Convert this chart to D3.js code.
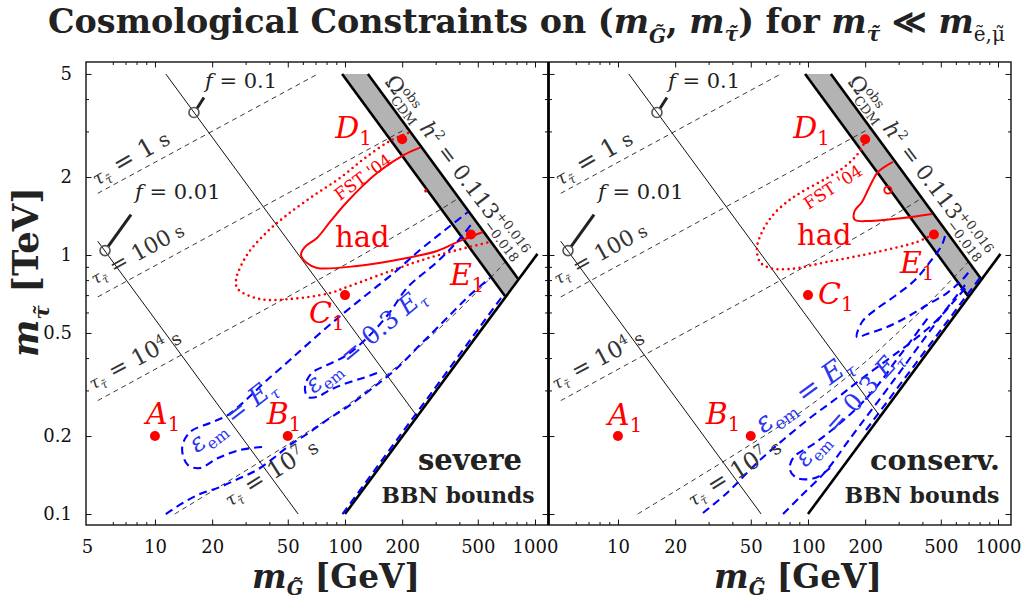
<!DOCTYPE html>
<html>
<head>
<meta charset="utf-8">
<script src="https://cdn.jsdelivr.net/npm/d3@7"></script>
<style>
  body { margin: 0; background: #fff; }
  svg { display: block; }
</style>
</head>
<body>
<svg id="chart" width="1028" height="607"></svg>
<script>
// ---------- axis ticks ----------
const xLabelTicksLeft = [5, 10, 20, 50, 100, 200, 500, 1000];
const xLabelTicksRight = [10, 20, 50, 100, 200, 500, 1000];
const xMajorTicks = [10, 20, 50, 100, 200, 500, 1000];
const xMinorTicks = [6, 7, 8, 9, 30, 40, 60, 70, 80, 90, 300, 400, 600, 700, 800, 900];
const yMajorTicks = [0.1, 0.2, 0.5, 1, 2, 5];
const yMinorTicks = [0.3, 0.4, 0.6, 0.7, 0.8, 0.9, 3, 4];

// ---------- benchmark points (gravitino mass in GeV, stau mass in TeV) ----------
const benchNames = ['A', 'B', 'C', 'D', 'E'];
const benchGravitino = [10, 50, 100, 200, 460];
const benchStau = [0.2, 0.2, 0.7, 2.8, 1.2];

// ---------- dark-matter band and kinematic limit ----------
const omegaBand = [[96.6, 5.0], [132, 5.0], [812, 0.812], [695, 0.695]];
const kinematicLimit = [[100, 0.1], [1030, 1.01]];

// ---------- stau lifetime contours ----------
const tau1s = [[5, 1.73], [72, 5.0]];
const tau100s = [[5, 0.689], [213, 3.09]];
const tau1e4s = [[5, 0.274], [20, 0.4775], [50, 0.689], [100, 0.917], [200, 1.227], [300, 1.46], [398, 1.66]];
const tau1e7s = [[12.7, 0.1], [20, 0.1225], [50, 0.1856], [100, 0.259], [200, 0.386], [300, 0.505], [400, 0.616], [500, 0.727], [600, 0.835], [700, 0.943]];

// ---------- f contours ----------
const fTenth = [[11.4, 5.0], [239, 0.239]];
const fHundredth = [[5, 1.13], [56.7, 0.1]];
const fMarks = [[16.04, 3.55], [5.46, 1.04]];
const fValues = ['0.1', '0.01'];

// ---------- hadronic BBN bounds ----------
const hadSevere = [[248, 2.596], [204.4, 2.433], [147.4, 2.073], [102.4, 1.602], [83.4, 1.341], [71.2, 1.163], [61.6, 1.074], [58.7, 1.0], [63.1, 0.931], [71.2, 0.891], [115.7, 0.907], [212, 0.974], [305, 1.036], [403, 1.133], [532, 1.227]];
const hadConserv = [[280, 2.286], [233.6, 2.091], [219.8, 1.948], [206.9, 1.782], [192.4, 1.602], [176, 1.479], [176, 1.37], [212, 1.353], [316, 1.389], [449.5, 1.44]];
const hadIslandSevere = [266, 1.767];
const hadIslandConserv = [263.5, 1.782];
const fstSevere = [[214.6, 2.958], [172.5, 2.755], [127.4, 2.369], [94.1, 1.983], [67.9, 1.69], [49.5, 1.427], [38.9, 1.227], [30.5, 1.0], [26.7, 0.801], [27.3, 0.739], [35.7, 0.676], [51.3, 0.676], [83.4, 0.713], [102.4, 0.752], [228, 0.931], [340, 1.018], [580, 1.123]];
const fstConserv = [[202, 2.78], [181, 2.433], [152.9, 2.167], [125.9, 1.983], [90.8, 1.735], [77.5, 1.602], [65.4, 1.427], [57.3, 1.227], [53.9, 1.064], [55.9, 0.94], [63.1, 0.891], [80.4, 0.883], [125.9, 0.94], [230.8, 1.027], [374.7, 1.123], [438.6, 1.184]];

// ---------- electromagnetic BBN bounds (severe) ----------
const emSevereFull = [[36.6, 0.1815], [28.0, 0.1767], [21.5, 0.1645], [17.25, 0.1505], [14.9, 0.1546], [13.9, 0.1798], [15.3, 0.2073], [19.5, 0.2246], [24.2, 0.2411], [30.1, 0.2755], [37.9, 0.3233], [51.3, 0.393], [72.1, 0.491], [100, 0.602], [135.4, 0.72], [183.4, 0.86], [248, 1.045], [336, 1.249], [444, 1.466]];
const emSevereLower = [[11.4, 0.1], [14.0, 0.1103], [17.25, 0.1195], [22.0, 0.1271], [28.0, 0.1377], [34.4, 0.1479], [42.8, 0.166], [51.3, 0.1847], [65.4, 0.2073], [83.4, 0.2348], [106.2, 0.2635], [135.4, 0.3012], [183.4, 0.3597], [248, 0.4494], [336, 0.561], [455, 0.7007], [580, 0.815]];
const emSevereThird = [[147.4, 0.3503], [124.4, 0.335], [102.4, 0.3205], [83.4, 0.3012], [71.2, 0.283], [63.9, 0.283], [61.6, 0.3012], [63.1, 0.3292], [67.9, 0.3534], [80.4, 0.376], [102.4, 0.411], [135.4, 0.491], [172.5, 0.602], [212, 0.746], [305, 0.94], [388.6, 1.123], [472, 1.341]];
const emSevereEdge = [[97, 0.1], [690, 0.71]];

// ---------- electromagnetic BBN bounds (conservative) ----------
const emConservFull = [[28.0, 0.1009], [37.5, 0.1206], [45.5, 0.139], [55.9, 0.1616], [73.9, 0.1931], [102.4, 0.2348], [142.1, 0.2804], [187.8, 0.3292], [260.5, 0.393], [344, 0.457], [466, 0.551], [594, 0.67], [695, 0.766]];
const emConservThird = [[130.6, 0.1505], [108.9, 0.1377], [87.5, 0.1377], [80.4, 0.148], [83.4, 0.1645], [108.9, 0.188], [143.9, 0.2207], [187.8, 0.2635], [233.6, 0.3148], [287, 0.3863], [357, 0.478], [438.6, 0.5865]];
const emConservInner = [[73.9, 0.1], [90.8, 0.1163], [125.9, 0.148], [164.4, 0.1931], [283.6, 0.3292], [483.5, 0.561], [670.5, 0.766]];
const emConservEdge = [[202, 0.211], [823.5, 0.837]];
const emConservUpper = [[526, 1.184], [507, 1.093], [438.6, 0.94], [365.8, 0.801], [287, 0.6945], [225.3, 0.613], [192.4, 0.551], [181, 0.4824], [204.4, 0.4955], [260.5, 0.527], [332, 0.576], [423, 0.641], [539, 0.713], [646.5, 0.801], [730, 0.891]];

// ---------- layout ----------
const TOP = 62, PW = 462, PH = 463;
const FONT = 'DejaVu Serif';
const RED = '#ff0000', BLUE = '#0000ff', BLUE_TXT = '#2a35f0';

const x = d3.scaleLog().domain([4.336, 1170.6]).range([0, PW]);
const y = d3.scaleLog().domain([0.0907, 5.56]).range([PH, 0]);

const straight = d3.line().x(d => x(d[0])).y(d => y(d[1]));
const smooth = d3.line().x(d => x(d[0])).y(d => y(d[1])).curve(d3.curveCatmullRom.alpha(0.5));

const svg = d3.select('#chart');
svg.append('rect').attr('width', 1028).attr('height', 607).attr('fill', '#fff');

// text made of styled runs (italic, sub/superscripts, stacked scripts)
function rich(parent, parts, o) {
  let tf = `translate(${o.x},${o.y}) rotate(${o.rotate || 0})`;
  if (o.vcenter) tf += ` translate(0,${0.35 * o.size})`;
  const t = parent.append('text')
    .attr('transform', tf)
    .attr('font-family', o.family || FONT)
    .attr('font-size', o.size)
    .attr('font-weight', o.weight || 'normal')
    .attr('fill', o.fill || '#000')
    .attr('text-anchor', o.anchor || 'start');
  let shift = 0, prev = null;
  parts.forEach(p => {
    const target = (p.shift || 0) * o.size;
    const s = t.append('tspan').text(p.t)
      .attr('font-size', o.size * (p.scale || 1))
      .attr('dy', target - shift);
    shift = target;
    if (p.it) s.attr('font-style', 'italic');
    if (p.w) s.attr('font-weight', p.w);
    if (p.back && prev) s.attr('dx', -prev.node().getComputedTextLength());
    else if (p.dx) s.attr('dx', p.dx * o.size);
    prev = s;
  });
  return t;
}
function fitRich(parent, parts, o) {
  let t = rich(parent, parts, o);
  if (o.width) {
    const w = t.node().getBBox().width;
    t.remove();
    t = rich(parent, parts, Object.assign({}, o, { size: o.size * o.width / w }));
  }
  return t;
}

const SUB = { scale: 0.62, shift: 0.25 };
const epsE = [{ t: 'ε', it: true }, Object.assign({ t: 'em' }, SUB), { t: ' = ' }, { t: 'E', it: true }, Object.assign({ t: 'τ', it: true }, SUB)];
const eps03 = [{ t: 'ε', it: true }, Object.assign({ t: 'em' }, SUB), { t: ' = 0.3 ' }, { t: 'E', it: true }, Object.assign({ t: 'τ', it: true }, SUB)];
function tauParts(v, exp) {
  const p = [{ t: 'τ', it: true, scale: 0.75 }, { t: 'τ\u0303', it: true, scale: 0.5, shift: 0.18 }, { t: ' = ' + v }];
  if (exp) p.push({ t: exp, scale: 0.6, shift: -0.38 });
  p.push({ t: ' s', scale: 0.8 });
  return p;
}
const tauLabelSpecs = [
  { parts: tauParts('1'), x: 11, y: 124, rot: -30, w: 86 },
  { parts: tauParts('100'), x: 9, y: 223, rot: -29, w: 104 },
  { parts: tauParts('10', '4'), x: 7, y: 328, rot: -28, w: 102 },
  { parts: tauParts('10', '7'), x: 144, y: 445, rot: -32, w: 106 }
];
const omegaParts = [
  { t: 'Ω' }, { t: 'obs', scale: 0.6, shift: -0.4 }, { t: 'CDM', scale: 0.6, shift: 0.28, back: true },
  { t: ' ' }, { t: 'h', it: true }, { t: '2', scale: 0.6, shift: -0.4 }, { t: ' = 0.113' },
  { t: '+0.016', scale: 0.6, shift: -0.4 }, { t: '−0.018', scale: 0.6, shift: 0.3, back: true }
];

const panels = [
  {
    id: 'severe', x0: 86, xLabels: xLabelTicksLeft, yLabels: true,
    had: hadSevere, fst: fstSevere, island: hadIslandSevere, islandRing: false,
    em: [emSevereFull, emSevereLower, emSevereThird, emSevereEdge],
    benchOffsets: [[-9, -12], [-21, -12], [-36, 28], [-67, -1], [-21, 51]],
    hadPos: [249, 185], fstPos: [277, 115, -36],
    epsEPos: [146, 353, -38, 103], eps03Pos: [279, 278, -40, 149],
    name: 'severe', namePos: [384, 408, 104], bbnPos: [372, 441, 153]
  },
  {
    id: 'conserv', x0: 549, xLabels: xLabelTicksRight, yLabels: false,
    had: hadConserv, fst: fstConserv, island: hadIslandConserv, islandRing: true,
    em: [emConservFull, emConservThird, emConservInner, emConservEdge, emConservUpper],
    benchOffsets: [[-10, -11], [-45, -12], [10, 9], [-72, -1], [-34, 39]],
    hadPos: [248, 183], fstPos: [284, 125, -33],
    epsEPos: [254, 331, -36, 113], eps03Pos: [299, 346, -48, 147],
    name: 'conserv.', namePos: [386, 408, 130], bbnPos: [373, 441, 155]
  }
];

panels.forEach(p => {
  const g = svg.append('g').attr('transform', `translate(${p.x0},${TOP})`);
  const clipId = 'clip-' + p.id;
  g.append('clipPath').attr('id', clipId).append('rect').attr('width', PW).attr('height', PH);
  const plot = g.append('g').attr('clip-path', `url(#${clipId})`);

  // relic-density band
  plot.append('path').attr('d', straight(omegaBand) + 'Z').attr('fill', '#b3b3b3');

  // lifetime contours
  [tau1s, tau100s, tau1e4s, tau1e7s].forEach(d => {
    plot.append('path').attr('d', smooth(d)).attr('fill', 'none')
      .attr('stroke', '#222').attr('stroke-width', 0.9).attr('stroke-dasharray', '5,4');
  });

  // f contours
  [fTenth, fHundredth].forEach(d => {
    plot.append('path').attr('d', straight(d)).attr('fill', 'none')
      .attr('stroke', '#111').attr('stroke-width', 1);
  });

  // band edges and kinematic limit
  [[omegaBand[0], omegaBand[3]], [omegaBand[1], omegaBand[2]], kinematicLimit].forEach(d => {
    plot.append('path').attr('d', straight(d)).attr('fill', 'none')
      .attr('stroke', '#000').attr('stroke-width', 2.6).attr('stroke-linecap', 'butt');
  });

  // hadronic bounds
  plot.append('path').attr('d', smooth(p.had)).attr('fill', 'none')
    .attr('stroke', RED).attr('stroke-width', 2);
  plot.append('path').attr('d', smooth(p.fst)).attr('fill', 'none')
    .attr('stroke', RED).attr('stroke-width', 2.6).attr('stroke-linecap', 'round')
    .attr('stroke-dasharray', '0,5.5');
  if (p.islandRing) {
    plot.append('circle').attr('cx', x(p.island[0])).attr('cy', y(p.island[1])).attr('r', 3.6)
      .attr('fill', 'none').attr('stroke', RED).attr('stroke-width', 1.8);
  } else {
    plot.append('circle').attr('cx', x(p.island[0])).attr('cy', y(p.island[1])).attr('r', 1.6).attr('fill', RED);
  }

  // electromagnetic bounds
  p.em.forEach(d => {
    plot.append('path').attr('d', smooth(d)).attr('fill', 'none')
      .attr('stroke', BLUE).attr('stroke-width', 2.1).attr('stroke-dasharray', '8,5');
  });

  // f markers with leaders and labels
  const leaders = [[3, -4, 10, -15, 11, -24], [3, -4, 26, -36, 30, -52]];
  fMarks.forEach((m, i) => {
    const cx = x(m[0]), cy = y(m[1]), L = leaders[i];
    g.append('line').attr('x1', cx + L[0]).attr('y1', cy + L[1]).attr('x2', cx + L[2]).attr('y2', cy + L[3])
      .attr('stroke', '#222').attr('stroke-width', 3);
    g.append('circle').attr('cx', cx).attr('cy', cy).attr('r', 5)
      .attr('fill', 'none').attr('stroke', '#555').attr('stroke-width', 1.6);
    rich(g, [{ t: 'f', it: true }, { t: ' = ' + fValues[i] }], { x: cx + L[4], y: cy + L[5], size: 21, fill: '#222' });
  });

  // lifetime labels
  tauLabelSpecs.forEach(s => {
    fitRich(g, s.parts, { x: s.x, y: s.y, rotate: s.rot, size: 22, fill: '#333', width: s.w });
  });

  // relic-density label
  fitRich(g, omegaParts, { x: 298, y: 20, rotate: 53, size: 20, fill: '#333', width: 222 });

  // benchmark points
  benchNames.forEach((n, i) => {
    const cx = x(benchGravitino[i]), cy = y(benchStau[i]);
    g.append('circle').attr('cx', cx).attr('cy', cy).attr('r', 5).attr('fill', RED);
    const off = p.benchOffsets[i];
    rich(g, [{ t: n, it: true }, { t: '1', scale: 0.65, shift: 0.22 }], { x: cx + off[0], y: cy + off[1], size: 30, fill: RED });
  });

  // region labels
  rich(g, [{ t: 'had' }], { x: p.hadPos[0], y: p.hadPos[1], size: 29, fill: RED });
  fitRich(g, [{ t: "FST '04" }], { x: p.fstPos[0], y: p.fstPos[1], rotate: p.fstPos[2], size: 15, fill: RED, anchor: 'middle', vcenter: true, width: 66 });
  fitRich(g, epsE, { x: p.epsEPos[0], y: p.epsEPos[1], rotate: p.epsEPos[2], size: 22, fill: BLUE_TXT, anchor: 'middle', vcenter: true, width: p.epsEPos[3] });
  fitRich(g, eps03, { x: p.eps03Pos[0], y: p.eps03Pos[1], rotate: p.eps03Pos[2], size: 24, fill: BLUE_TXT, anchor: 'middle', vcenter: true, width: p.eps03Pos[3] });
  fitRich(g, [{ t: p.name }], { x: p.namePos[0], y: p.namePos[1], size: 28, weight: 'bold', fill: '#222', anchor: 'middle', width: p.namePos[2] });
  fitRich(g, [{ t: 'BBN bounds' }], { x: p.bbnPos[0], y: p.bbnPos[1], size: 19, weight: 'bold', fill: '#222', anchor: 'middle', width: p.bbnPos[2] });

  // ticks on all four sides, pointing inward
  const tickSets = [
    [d3.axisBottom(x), `translate(0,${PH})`, xMajorTicks, xMinorTicks],
    [d3.axisTop(x), 'translate(0,0)', xMajorTicks, xMinorTicks],
    [d3.axisLeft(y), 'translate(0,0)', yMajorTicks, yMinorTicks],
    [d3.axisRight(y), `translate(${PW},0)`, yMajorTicks, yMinorTicks]
  ];
  tickSets.forEach(([ax, tf, major, minor]) => {
    [[major, -5.5], [minor, -3]].forEach(([vals, len]) => {
      const a = g.append('g').attr('transform', tf).attr('color', '#111')
        .call(ax.tickValues(vals).tickSize(len).tickFormat(''));
      a.select('.domain').remove();
    });
  });

  // tick labels
  const xl = g.append('g').attr('transform', `translate(0,${PH})`)
    .call(d3.axisBottom(x).tickValues(p.xLabels).tickSize(0).tickPadding(15).tickFormat(d => String(d)));
  xl.select('.domain').remove();
  xl.attr('font-family', FONT).attr('font-size', 18).attr('color', '#111');
  xl.selectAll('.tick text').filter(d => d === 5).attr('x', -x(5) + 1);
  if (p.yLabels) {
    const yl = g.append('g')
      .call(d3.axisLeft(y).tickValues(yMajorTicks).tickSize(0).tickPadding(14).tickFormat(d => String(d)));
    yl.select('.domain').remove();
    yl.attr('font-family', FONT).attr('font-size', 18).attr('color', '#111');
  }

  // frame
  g.append('rect').attr('width', PW).attr('height', PH).attr('fill', 'none')
    .attr('stroke', '#111').attr('stroke-width', 1.4);
});

// shared border between the panels
svg.append('line').attr('x1', 548.5).attr('x2', 548.5).attr('y1', TOP).attr('y2', TOP + PH)
  .attr('stroke', '#000').attr('stroke-width', 2.4);

// title
fitRich(svg, [
  { t: 'Cosmological Constraints on (' }, { t: 'm', it: true }, { t: 'G\u0303', it: true, scale: 0.6, shift: 0.3 },
  { t: ', ' }, { t: 'm', it: true }, { t: 'τ\u0303', it: true, scale: 0.6, shift: 0.25 },
  { t: ') for ' }, { t: 'm', it: true }, { t: 'τ\u0303', it: true, scale: 0.6, shift: 0.25 },
  { t: ' \u226A ' }, { t: 'm', it: true }, { t: '\u1EBD,\u03BC\u0303', scale: 0.6, shift: 0.25, w: 'normal' }
], { x: 526.5, y: 33, size: 26, weight: 'bold', fill: '#222', anchor: 'middle', width: 957 });

// axis titles
[336, 798].forEach(cx => {
  fitRich(svg, [{ t: 'm', it: true }, { t: 'G\u0303', it: true, scale: 0.6, shift: 0.22 }, { t: ' [GeV]' }],
    { x: cx, y: 588, size: 30, weight: 'bold', fill: '#222', anchor: 'middle', width: 168 });
});
fitRich(svg, [{ t: 'm', it: true }, { t: 'τ\u0303', it: true, scale: 0.6, shift: 0.3 }, { t: ' [TeV]' }],
  { x: 38, y: 272, rotate: -90, size: 30, weight: 'bold', fill: '#222', anchor: 'middle', width: 170 });
</script>
</body>
</html>
